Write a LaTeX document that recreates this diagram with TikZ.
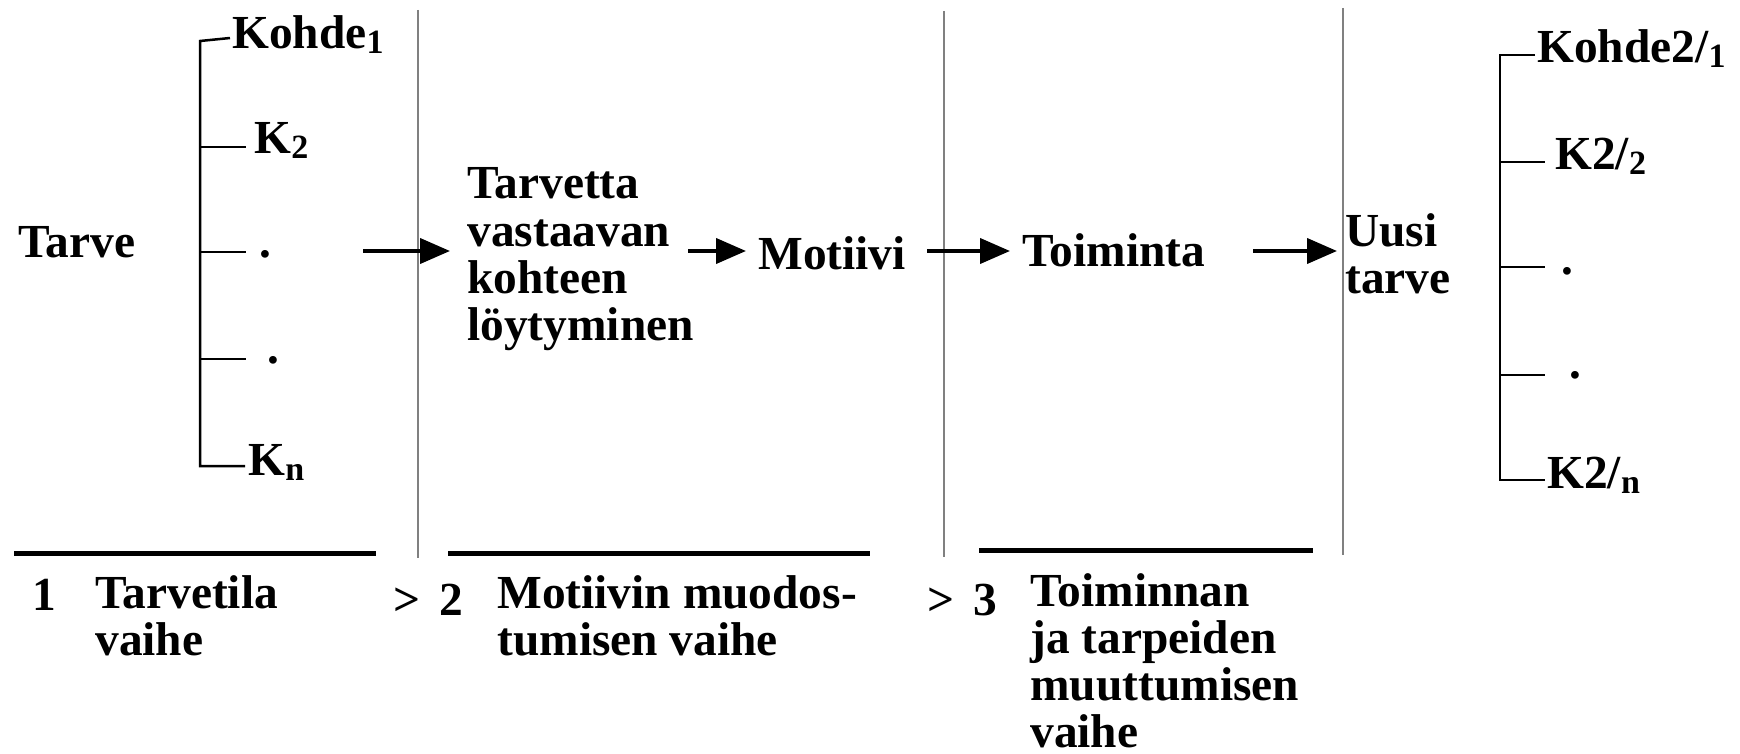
\documentclass[tikz,border=0pt]{standalone}
\usepackage{fontspec}
\setmainfont{Liberation Serif}
\usetikzlibrary{arrows.meta}

% alaindeksi
\newcommand{\ala}[1]{\raisebox{-2.5pt}{\fontsize{17}{17}\selectfont #1}}

\begin{document}
\begin{tikzpicture}[x=0.5pt, y=-0.5pt,
    teksti/.style={anchor=base west, inner sep=0, align=left,
      font=\fontsize{23.7}{23.5}\selectfont\bfseries},
    haara/.style={line width=1.25pt},
    nuoli/.style={line width=2pt, -{Triangle[length=15pt, width=12.5pt]}},
    raja/.style={line width=0.75pt, black!50},
    viiva/.style={line width=2.5pt}]
  \useasboundingbox (0,0) rectangle (1740,754);

  % Tarve ja kohteet
  \node[teksti] (tarve) at (18,258) {Tarve};
  \draw[haara] (230,38) -- (200,41) -- (200,466) -- (245,466);
  \foreach \y in {147,252,359}
    \draw[haara] (200,\y) -- (246,\y);
  \node[teksti] (kohde1) at (232,49) {Kohde\ala{1}};
  \node[teksti] (k2) at (254,154) {K\ala{2}};
  \node[teksti] (piste1) at (259,258) {.};
  \node[teksti] (piste2) at (267,364) {.};
  \node[teksti] (kn) at (248,475) {K\ala{n}};

  % Vaiheiden rajat
  \foreach \x/\a/\b in {418/10/558, 944/11/557, 1343/8/555}
    \draw[raja] (\x,\a) -- (\x,\b);

  % Keskiosa (base = viimeisen rivin perusviiva)
  \node[teksti] (tarvetta) at (467,340) {Tarvetta\\vastaavan\\kohteen\\löytyminen};
  \node[teksti] (motiivi) at (758,270) {Motiivi};
  \node[teksti] (toiminta) at (1022,267) {Toiminta};
  \node[teksti] (uusi) at (1345,293) {Uusi\\tarve};

  % Nuolet
  \foreach \i/\a/\b in {1/363/450, 2/688/746, 3/927/1010, 4/1253/1337} {
    \coordinate (alku\i) at (\a,251);
    \coordinate (loppu\i) at (\b,251);
    \draw[nuoli] (alku\i) -- (loppu\i);
  }

  % Uudet kohteet
  \draw[haara] (1535,55) -- (1500,55) -- (1500,480) -- (1545,480);
  \foreach \y in {162,267,375}
    \draw[haara] (1500,\y) -- (1545,\y);
  \node[teksti] (kohde21) at (1537,63) {Kohde2/\ala{1}};
  \node[teksti] (k22) at (1555,170) {K2/\ala{2}};
  \node[teksti] (piste3) at (1561,275) {.};
  \node[teksti] (piste4) at (1569,379) {.};
  \node[teksti] (k2n) at (1547,488) {K2/\ala{n}};

  % Vaiheet
  \draw[viiva] (14,553) -- (376,553);
  \draw[viiva] (448,553) -- (870,553);
  \draw[viiva] (979,550) -- (1313,550);
  \node[teksti] (nro1) at (32,610) {1};
  \node[teksti] (vaihe1) at (95,655) {Tarvetila\\vaihe};
  \node[teksti] (nro2) at (393,615) {>\hspace{0.4em}2};
  \node[teksti] (vaihe2) at (497,655) {Motiivin muodos-\\tumisen vaihe};
  \node[teksti] (nro3) at (927,615) {>\hspace{0.4em}3};
  \node[teksti] (vaihe3) at (1030,747) {Toiminnan\\ja tarpeiden\\muuttumisen\\vaihe};
\end{tikzpicture}
\end{document}
